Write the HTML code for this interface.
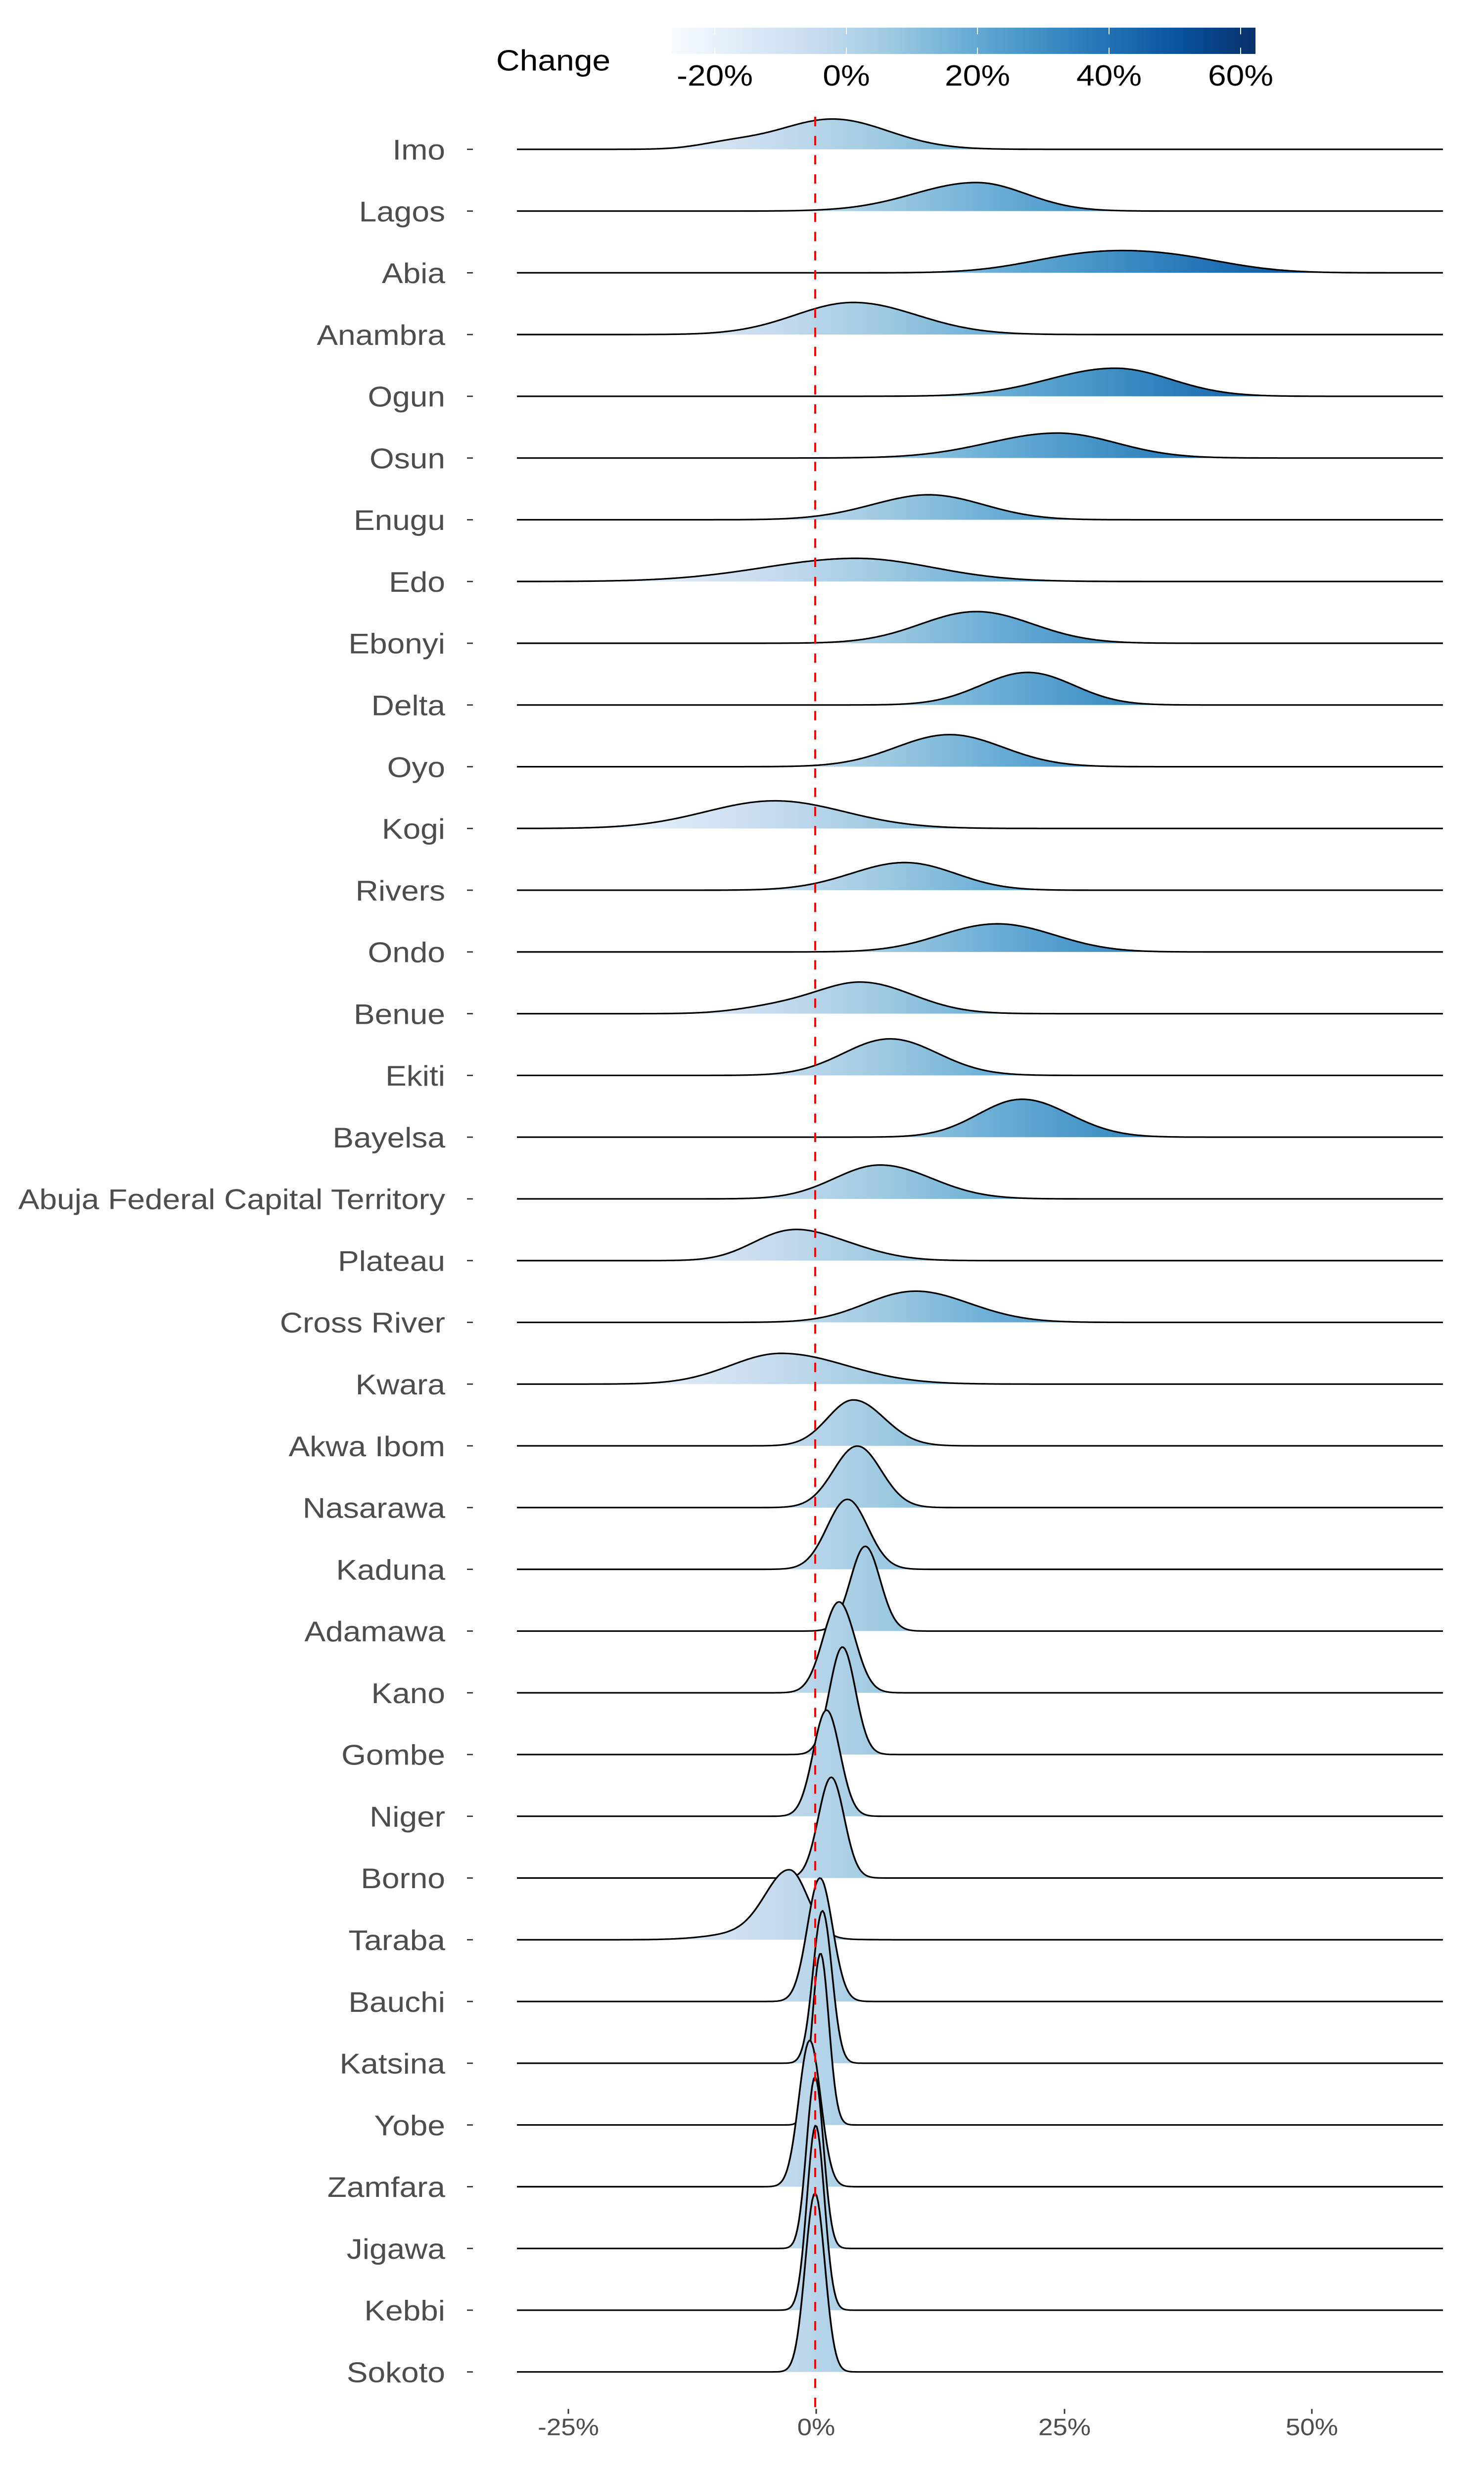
<!DOCTYPE html>
<html><head><meta charset="utf-8">
<style>
html,body{margin:0;padding:0;background:#fff;width:100%;height:100%;overflow:hidden;}
svg{display:block;position:fixed;left:0;top:0;width:100vw;height:100vh;}
.yl{font-family:"Liberation Sans",sans-serif;font-size:64px;fill:#4d4d4d;text-anchor:end;}
.xl{font-family:"Liberation Sans",sans-serif;font-size:53px;fill:#4d4d4d;text-anchor:middle;}
.cl{font-family:"Liberation Sans",sans-serif;font-size:66px;fill:#000;text-anchor:middle;}
</style></head>
<body>
<svg id="s" xmlns="http://www.w3.org/2000/svg" width="100%" height="100%" viewBox="0 0 3000 5550" preserveAspectRatio="none">
<defs>
<linearGradient id="g" gradientUnits="userSpaceOnUse" x1="1117" y1="0" x2="2898" y2="0">
<stop offset="0" stop-color="#f7fbff"/><stop offset="0.125" stop-color="#deebf7"/><stop offset="0.25" stop-color="#c6dbef"/><stop offset="0.375" stop-color="#9ecae1"/><stop offset="0.5" stop-color="#6baed6"/><stop offset="0.625" stop-color="#4292c6"/><stop offset="0.75" stop-color="#2171b5"/><stop offset="0.875" stop-color="#08519c"/><stop offset="1" stop-color="#08306b"/>
</linearGradient>
<linearGradient id="cb" x1="0" y1="0" x2="1" y2="0">
<stop offset="0" stop-color="#f7fbff"/><stop offset="0.125" stop-color="#deebf7"/><stop offset="0.25" stop-color="#c6dbef"/><stop offset="0.375" stop-color="#9ecae1"/><stop offset="0.5" stop-color="#6baed6"/><stop offset="0.625" stop-color="#4292c6"/><stop offset="0.75" stop-color="#2171b5"/><stop offset="0.875" stop-color="#08519c"/><stop offset="1" stop-color="#08306b"/>
</linearGradient>
</defs>
<text x="1003" y="158" style="font-family:'Liberation Sans',sans-serif;font-size:66px;fill:#000">Change</text>
<rect x="1357" y="62" width="1181" height="59" fill="url(#cb)"/>
<g stroke="#fff" stroke-width="2">
<line x1="1445" y1="62" x2="1445" y2="77"/><line x1="1445" y1="107" x2="1445" y2="121"/>
<line x1="1711" y1="62" x2="1711" y2="77"/><line x1="1711" y1="107" x2="1711" y2="121"/>
<line x1="1976" y1="62" x2="1976" y2="77"/><line x1="1976" y1="107" x2="1976" y2="121"/>
<line x1="2242" y1="62" x2="2242" y2="77"/><line x1="2242" y1="107" x2="2242" y2="121"/>
<line x1="2508" y1="62" x2="2508" y2="77"/><line x1="2508" y1="107" x2="2508" y2="121"/>
</g>
<text class="cl" x="1445" y="192">-20%</text>
<text class="cl" x="1711" y="192">0%</text>
<text class="cl" x="1976" y="192">20%</text>
<text class="cl" x="2242" y="192">40%</text>
<text class="cl" x="2508" y="192">60%</text>
<g id="ridges"></g>
<line x1="1648" y1="262" x2="1648" y2="5404" stroke="#ff0000" stroke-width="4" stroke-dasharray="21 22"/>
<g id="ylab"></g>
<g stroke="#333" stroke-width="3">
<line x1="1149" y1="5404" x2="1149" y2="5415"/><line x1="1650" y1="5404" x2="1650" y2="5415"/>
<line x1="2152" y1="5404" x2="2152" y2="5415"/><line x1="2652" y1="5404" x2="2652" y2="5415"/>
</g>
<text class="xl" x="1149" y="5463">-25%</text>
<text class="xl" x="1650" y="5463">0%</text>
<text class="xl" x="2152" y="5463">25%</text>
<text class="xl" x="2652" y="5463">50%</text>
<text class="yl" x="900" y="358">Imo</text>
<text class="yl" x="900" y="496.5">Lagos</text>
<text class="yl" x="900" y="635">Abia</text>
<text class="yl" x="900" y="773.5">Anambra</text>
<text class="yl" x="900" y="912">Ogun</text>
<text class="yl" x="900" y="1050.5">Osun</text>
<text class="yl" x="900" y="1189">Enugu</text>
<text class="yl" x="900" y="1327.5">Edo</text>
<text class="yl" x="900" y="1466">Ebonyi</text>
<text class="yl" x="900" y="1604.5">Delta</text>
<text class="yl" x="900" y="1743">Oyo</text>
<text class="yl" x="900" y="1881.5">Kogi</text>
<text class="yl" x="900" y="2020">Rivers</text>
<text class="yl" x="900" y="2158.5">Ondo</text>
<text class="yl" x="900" y="2297">Benue</text>
<text class="yl" x="900" y="2435.5">Ekiti</text>
<text class="yl" x="900" y="2574">Bayelsa</text>
<text class="yl" x="900" y="2712.5">Abuja Federal Capital Territory</text>
<text class="yl" x="900" y="2851">Plateau</text>
<text class="yl" x="900" y="2989.5">Cross River</text>
<text class="yl" x="900" y="3128">Kwara</text>
<text class="yl" x="900" y="3266.5">Akwa Ibom</text>
<text class="yl" x="900" y="3405">Nasarawa</text>
<text class="yl" x="900" y="3543.5">Kaduna</text>
<text class="yl" x="900" y="3682">Adamawa</text>
<text class="yl" x="900" y="3820.5">Kano</text>
<text class="yl" x="900" y="3959">Gombe</text>
<text class="yl" x="900" y="4097.5">Niger</text>
<text class="yl" x="900" y="4236">Borno</text>
<text class="yl" x="900" y="4374.5">Taraba</text>
<text class="yl" x="900" y="4513">Bauchi</text>
<text class="yl" x="900" y="4651.5">Katsina</text>
<text class="yl" x="900" y="4790">Yobe</text>
<text class="yl" x="900" y="4928.5">Zamfara</text>
<text class="yl" x="900" y="5067">Jigawa</text>
<text class="yl" x="900" y="5205.5">Kebbi</text>
<text class="yl" x="900" y="5344">Sokoto</text>
</svg>
<script>
(function(){
var rows=[
[[[1.7,5.6,5.6,1],[-9,3,3,0.15]],68],
[[[16.2,6.3,5,1]],64],
[[[27,6,6,1],[36,6,6,0.9]],50],
[[[3.8,5.9,6.4,1]],72],
[[[30.2,6.7,5.6,1]],63],
[[[24.4,7,5.9,1]],56],
[[[9.7,5.5,5,1],[14,5,5,0.7]],56],
[[[4.1,9.3,7.7,1]],52],
[[[16.2,5.6,5.7,1]],71],
[[[20,4.5,4.5,1],[23,4.3,4.3,0.8]],73],
[[[13.5,5.4,5.4,1]],72],
[[[-4.1,7,7,1]],62],
[[[7,5,5,1],[11,4.5,4.5,0.8]],62],
[[[16,5,5,1],[21,5,5,0.9]],63],
[[[4.7,4.6,5.1,1],[-4,4,4,0.2]],71],
[[[7.5,4.7,4.8,1]],82],
[[[20.8,4.4,4.8,1]],85],
[[[6.5,4.6,5.2,1]],76],
[[[-3.5,3.5,3.5,1],[1,4.5,4.5,1]],70],
[[[11.1,5.3,5.3,1],[8,4,4,0.3]],70],
[[[-3.5,5.1,6.6,1]],69],
[[[3.8,2.6,3.1,1]],103],
[[[4.2,2.4,2.4,1]],138],
[[[3.2,2.05,2.05,1]],157],
[[[5.0,1.5,1.5,1]],190],
[[[2.35,1.6,1.6,1]],204],
[[[2.7,1.3,1.3,1]],241],
[[[1.1,1.35,1.35,1]],238],
[[[1.57,1.3,1.3,1]],226],
[[[-2.6,2.4,1.8,1],[-6,4,4,0.12]],157],
[[[0.43,1.27,1.27,1]],277],
[[[0.68,0.95,0.95,1]],342],
[[[0.48,0.84,0.84,1]],384],
[[[-0.6,1.1,1.1,1]],328],
[[[-0.07,0.85,0.85,1]],385],
[[[0,0.88,0.88,1]],414],
[[[-0.07,0.99,0.99,1]],401]
];
var NS="http://www.w3.org/2000/svg";
var g=document.getElementById("ridges");
var yl=document.getElementById("ylab");
var X0=1045,X1=2919;
for(var i=0;i<rows.length;i++){
  var y0=335+i*138.5, comps=rows[i][0], h=rows[i][1];
  var xs=[],ds=[],mx=0;
  for(var x=X0;x<=X1;x+=3){
    var v=(x-1649)/20.04,d=0;
    for(var c=0;c<comps.length;c++){
      var m=comps[c][0],s=v<m?comps[c][1]:comps[c][2];
      d+=comps[c][3]*Math.exp(-(v-m)*(v-m)/(2*s*s));
    }
    xs.push(x);ds.push(d);if(d>mx)mx=d;
  }
  var pts="";
  for(var k=0;k<xs.length;k++){pts+=(k?" L":"M")+xs[k]+" "+(y0-ds[k]/mx*h).toFixed(1);}
  var f=document.createElementNS(NS,"path");
  f.setAttribute("d",pts+" L"+xs[xs.length-1]+" "+y0+" L"+X0+" "+y0+" Z");
  f.setAttribute("fill","url(#g)");
  g.appendChild(f);
  var p=document.createElementNS(NS,"path");
  p.setAttribute("d",pts);p.setAttribute("fill","none");
  p.setAttribute("stroke","#000");p.setAttribute("stroke-width","3.5");
  p.setAttribute("stroke-linejoin","round");
  g.appendChild(p);
  var t=document.createElementNS(NS,"line");
  t.setAttribute("x1",944);t.setAttribute("x2",956);
  t.setAttribute("y1",y0);t.setAttribute("y2",y0);
  t.setAttribute("stroke","#333");t.setAttribute("stroke-width","3");
  yl.appendChild(t);
}
})();
</script>
</body></html>
